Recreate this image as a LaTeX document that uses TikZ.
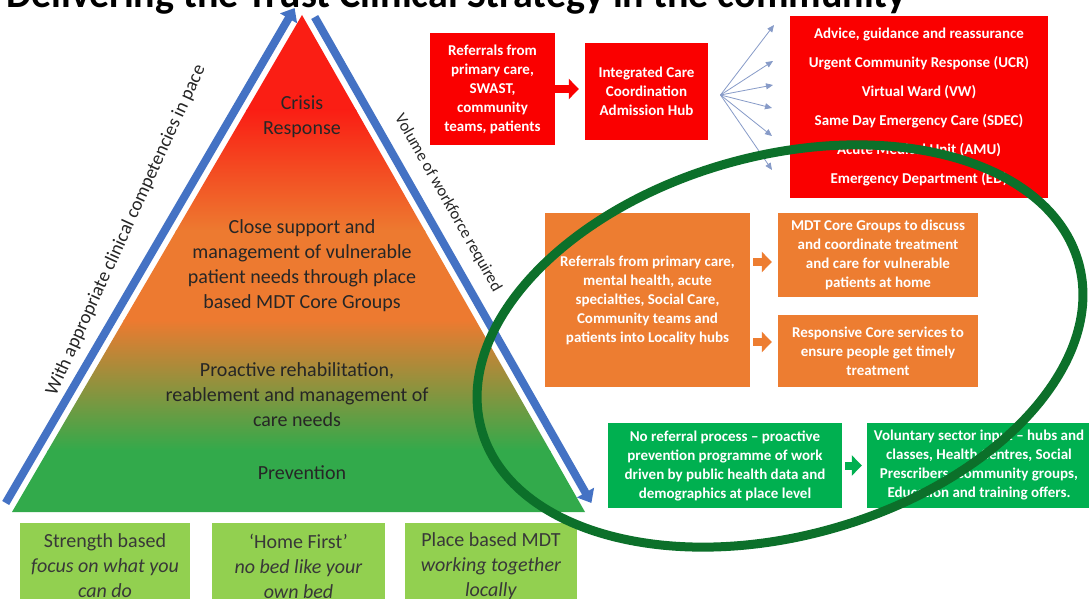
\documentclass[tikz,border=0pt]{standalone}
\usepackage{fontspec}
\setmainfont{Carlito}
\usetikzlibrary{arrows.meta,calc}
\definecolor{pred}{RGB}{250,0,0}
\definecolor{porange}{RGB}{237,125,49}
\definecolor{pgreen}{RGB}{0,176,80}
\definecolor{plgreen}{RGB}{146,208,80}
\definecolor{pblue}{RGB}{68,114,196}
\definecolor{pfan}{RGB}{135,155,200}
\definecolor{pdkgreen}{RGB}{12,112,42}
\definecolor{triA}{RGB}{250,30,20}
\definecolor{triB}{RGB}{237,122,48}
\definecolor{triC}{RGB}{50,170,75}
\tikzset{
  box/.style={text=white, font=\bfseries\fontsize{15}{19}\selectfont, align=center, inner sep=0pt},
  redbox/.style={box, fill=pred},
  orangebox/.style={box, fill=porange},
  greenbox/.style={box, fill=pgreen},
  basebox/.style={fill=plgreen, text=black!78, font=\fontsize{20}{25}\selectfont, align=center, inner sep=0pt, minimum height=86pt},
  tritext/.style={text=black!85, font=\fontsize{20}{25}\selectfont, align=center, inner sep=0pt},
  band/.style={draw=pblue, line width=8pt, -{Triangle[width=19pt,length=12pt]}},
  blockarrow/.style={line width=8pt, -{Triangle[width=20pt,length=10pt]}},
  fan/.style={draw=pfan, line width=0.8pt, -{Triangle[width=6pt,length=7pt]}},
  sidetext/.style={text=black!85, inner sep=0pt},
}
\begin{document}
\begin{tikzpicture}[x=1pt,y=-1pt]
\useasboundingbox (0,0) rectangle (1089,599);
\clip (0,0) rectangle (1089,599);
\fill[white] (0,0) rectangle (1089,599);

% title (cut off at the top)
\node[anchor=base west, inner sep=0pt, font=\bfseries\fontsize{40}{40}\selectfont] (title) at (6,8) {Delivering the Trust Clinical Strategy in the community};

% pyramid
\coordinate (apex) at (302,15);
\coordinate (bl) at (12,512);
\coordinate (br) at (585,512);
\begin{scope}
  \clip (apex) -- (bl) -- (br) -- cycle;
  \fill[triA] (0,10) rectangle (600,111);
  \shade[top color=triA, bottom color=triB] (0,110) rectangle (600,231);
  \fill[triB] (0,230) rectangle (600,321);
  \shade[top color=triB, bottom color=triC] (0,320) rectangle (600,451);
  \fill[triC] (0,450) rectangle (600,520);
\end{scope}

% blue bands
\coordinate (lb1) at (5.7,503);
\coordinate (lb2) at (294.6,8);
\coordinate (rb1) at (314.7,17);
\coordinate (rb2) at (591.4,503);
\draw[band] (lb1) -- (lb2);
\draw[band] (rb1) -- (rb2);
\node[sidetext, rotate=65.5, font=\fontsize{19}{19}\selectfont] (lefttxt) at (126,230) {With appropriate clinical competencies in pace};
\node[sidetext, rotate=-60.5, font=\fontsize{16.5}{16.5}\selectfont] (righttxt) at (448,203) {Volume of workforce required};

% pyramid texts
\node[tritext] (crisis) at (302,117) {Crisis\\Response};
\node[tritext] (close) at (302,266) {Close support and\\management of vulnerable\\patient needs through place\\based MDT Core Groups};
\node[tritext] (proactive) at (297,395) {Proactive rehabilitation,\\reablement and management of\\care needs};
\node[tritext] (prevention) at (302,473) {Prevention};

% bottom boxes
\node[basebox, minimum width=170pt] (b1) at (105,566) {Strength based\\\textit{focus on what you}\\\textit{can do}};
\node[basebox, minimum width=173pt] (b2) at (298.5,566) {‘Home First’\\\textit{no bed like your}\\\textit{own bed}};
\node[basebox, minimum width=172pt] (b3) at (491,566) {Place based MDT\\\textit{working together}\\\textit{locally}};

% red row
\node[redbox, minimum width=125pt, minimum height=112pt] (ref) at (492.5,89) {Referrals from\\primary care,\\SWAST,\\community\\teams, patients};
\node[redbox, minimum width=123pt, minimum height=97pt] (hub) at (646.5,91.5) {Integrated Care\\Coordination\\Admission Hub};
\draw[blockarrow, draw=pred] (ref.east) -- ([xshift=-6pt]ref.east -| hub.west);
\node[redbox, minimum width=258pt, minimum height=181pt, font=\bfseries\fontsize{15}{29}\selectfont] (list) at (919,107) {Advice, guidance and reassurance\\Urgent Community Response (UCR)\\Virtual Ward (VW)\\Same Day Emergency Care (SDEC)\\Acute Medical Unit (AMU)\\Emergency Department (ED)};
\coordinate (fo) at (720.5,95);
\coordinate (f1) at (774,25);
\coordinate (f2) at (773,61);
\coordinate (f3) at (773,85);
\coordinate (f4) at (772,108);
\coordinate (f5) at (772,136);
\coordinate (f6) at (772,170);
\foreach \f in {f1,f2,f3,f4,f5,f6} \draw[fan] (fo) -- (\f);

% orange row
\node[orangebox, minimum width=205pt, minimum height=174pt] (orb) at (647.5,300) {Referrals from primary care,\\mental health, acute\\specialties, Social Care,\\Community teams and\\patients into Locality hubs};
\node[orangebox, minimum width=200pt, minimum height=84pt] (mdt) at (878,255) {MDT Core Groups to discuss\\and coordinate treatment\\and care for vulnerable\\patients at home};
\node[orangebox, minimum width=200pt, minimum height=72pt] (resp) at (878,351) {Responsive Core services to\\ensure people get timely\\treatment};
\draw[blockarrow, draw=porange] ([xshift=3pt,yshift=38pt]orb.east) -- ([xshift=-6pt,yshift=38pt]orb.east -| mdt.west);
\draw[blockarrow, draw=porange] ([xshift=3pt,yshift=-42pt]orb.east) -- ([xshift=-6pt,yshift=-42pt]orb.east -| resp.west);

% green row
\node[greenbox, minimum width=234pt, minimum height=85pt] (g1) at (725,465.5) {No referral process – proactive\\prevention programme of work\\driven by public health data and\\demographics at place level};
\node[greenbox, minimum width=224pt, minimum height=85pt] (g2) at (979,465) {Voluntary sector input – hubs and\\classes, Health Centres, Social\\Prescribers, Community groups,\\Education and training offers.};
\draw[blockarrow, draw=pgreen] ([xshift=3pt]g1.east) -- ([xshift=-5pt]g1.east -| g2.west);

% highlight ellipse
\draw[pdkgreen, line width=9pt, rotate around={15.6:(780,346)}] (780,346) ellipse [x radius=310pt, y radius=190pt];
\end{tikzpicture}
\end{document}
